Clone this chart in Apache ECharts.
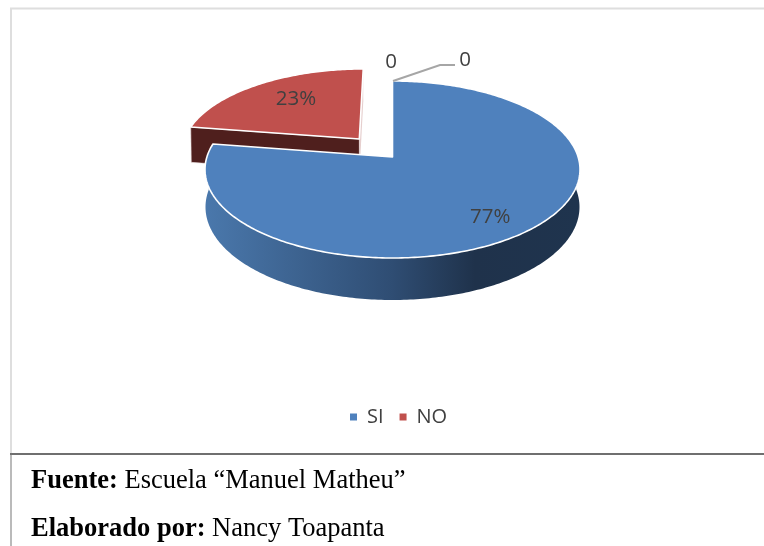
<!DOCTYPE html>
<html><head><meta charset="utf-8">
<style>html,body{margin:0;padding:0;background:#fff}#c{width:764px;height:546px}</style>
<script src="https://cdn.jsdelivr.net/npm/echarts@6/dist/echarts.min.js"></script>
</head><body><div id="c"></div>
<script>
const categories = ['SI', 'NO'];
const seriesValues = [77.45, 22.55];
const zeroLabels = ['0', '0'];
const sourceLabel = 'Fuente:';
const sourceText = 'Escuela “Manuel Matheu”';
const authorLabel = 'Elaborado por:';
const authorText = 'Nancy Toapanta';

const total = seriesValues.reduce((a, b) => a + b, 0);
const TOP = {cx: 392.5, cy: 169.5, rx: 187.5, ry: 88.5};
const BOT = {cx: 392.5, cy: 207, rx: 187, ry: 93};
const A = -0.141;             // perspective shift of the disc centre
const EXPLODE = [0, 0.283];   // radial offset of each slice in disc units
const RADIUS = [1, 0.97];     // exploded slice sits a little further back
const LABEL_F = [0.78, 0.62];
const LABEL_NUDGE = [[-5, 4], [3, -4]];
const S = Math.sqrt(1 - A * A);

function project(u, v, g) {
  const d = 1 + A * v;
  return [g.cx + g.rx * u * S / d, g.cy + g.ry * (v + A) / d];
}
function sliceRange(i) {
  let s = 0;
  for (let k = 0; k < i; k++) s += seriesValues[k];
  return [s / total * 2 * Math.PI, (s + seriesValues[i]) / total * 2 * Math.PI];
}
function rim(i, g, from, to) {
  const mid = (sliceRange(i)[0] + sliceRange(i)[1]) / 2;
  const ox = Math.sin(mid) * EXPLODE[i], oy = -Math.cos(mid) * EXPLODE[i];
  const n = Math.max(2, Math.ceil(Math.abs(to - from) / 0.015));
  const pts = [];
  for (let k = 0; k <= n; k++) {
    const t = from + (to - from) * k / n;
    pts.push(project(Math.sin(t) * RADIUS[i] + ox, -Math.cos(t) * RADIUS[i] + oy, g));
  }
  return pts;
}
function apex(i, g) {
  const r = sliceRange(i), mid = (r[0] + r[1]) / 2;
  return project(Math.sin(mid) * EXPLODE[i], -Math.cos(mid) * EXPLODE[i], g);
}
function labelAt(i) {
  const r = sliceRange(i), mid = (r[0] + r[1]) / 2;
  const e = EXPLODE[i] + LABEL_F[i];
  const p = project(Math.sin(mid) * e, -Math.cos(mid) * e, TOP);
  return [p[0] + LABEL_NUDGE[i][0], p[1] + LABEL_NUDGE[i][1]];
}
const labelStyle = {font: '20.5px "Open Sans"', fill: '#404040', align: 'center', verticalAlign: 'middle'};

function renderSlice(i, topColor, sideFill) {
  return function () {
    const [a, b] = sliceRange(i);
    const children = [];
    if (i === 0) {
      const wall = rim(i, TOP, Math.PI / 2 - 0.05, 3 * Math.PI / 2 + 0.05)
        .concat(rim(i, BOT, 3 * Math.PI / 2 + 0.05, Math.PI / 2 - 0.05));
      children.push({type: 'polygon', shape: {points: wall}, style: {fill: sideFill}});
    } else {
      const wall = [apex(i, TOP), rim(i, TOP, a, a)[0], rim(i, BOT, a, a)[0], apex(i, BOT)];
      children.push({type: 'polygon', shape: {points: wall}, style: {fill: sideFill, stroke: '#e8dcdc', lineWidth: 0.6}});
      const right = [apex(i, TOP), rim(i, TOP, b, b)[0], rim(i, BOT, b, b)[0], apex(i, BOT)];
      children.push({type: 'polygon', shape: {points: right}, style: {fill: '#e6cfce'}});
    }
    const face = [apex(i, TOP)].concat(rim(i, TOP, a, b));
    children.push({type: 'polygon', shape: {points: face},
      style: {fill: topColor, stroke: '#ffffff', lineWidth: 1.6, lineJoin: 'round'}});
    const pos = labelAt(i);
    children.push({type: 'text', x: pos[0], y: pos[1],
      style: Object.assign({text: Math.round(seriesValues[i] / total * 100) + '%'}, labelStyle)});
    return {type: 'group', children};
  };
}
function renderZero() {
  return {type: 'group', children: [
    {type: 'polyline', shape: {points: [[393, 81], [440, 65], [455, 65]]},
      style: {stroke: '#a6a6a6', lineWidth: 2, fill: null}},
    {type: 'text', x: 391, y: 62, style: Object.assign({text: zeroLabels[0]}, labelStyle)},
    {type: 'text', x: 465, y: 60, style: Object.assign({text: zeroLabels[1]}, labelStyle)}
  ]};
}
const blueSide = {type: 'linear', x: 0, y: 0, x2: 1, y2: 0, colorStops: [
  {offset: 0, color: '#4a78ac'}, {offset: 0.5, color: '#2f4d73'},
  {offset: 0.72, color: '#1f324b'}, {offset: 1, color: '#1f344e'}]};

const chart = echarts.init(document.getElementById('c'), null, {renderer: 'canvas'});
chart.setOption({
  animation: false,
  backgroundColor: '#fff',
  color: ['#4f81bd', '#c0504d'],
  legend: {data: categories, left: 345, top: 402, icon: 'rect', itemWidth: 7, itemHeight: 7, itemGap: 16,
    textStyle: {fontFamily: 'Open Sans', fontSize: 20, color: '#404040', padding: [0, 0, 0, 5]}},
  tooltip: {show: false},
  series: [
    {type: 'custom', name: categories[1], coordinateSystem: 'none', data: [seriesValues[1]],
      renderItem: renderSlice(1, '#c0504d', '#4f1f1d'), itemStyle: {color: '#c0504d'}, silent: true, z: 2},
    {type: 'custom', name: categories[0], coordinateSystem: 'none', data: [seriesValues[0]],
      renderItem: renderSlice(0, '#4f81bd', blueSide), itemStyle: {color: '#4f81bd'}, silent: true, z: 3},
    {type: 'custom', name: 'zero', coordinateSystem: 'none', data: [0], renderItem: renderZero, silent: true, z: 4}
  ],
  graphic: [
    {type: 'rect', shape: {x: 10, y: 7.5, width: 754, height: 2}, style: {fill: '#dedede'}},
    {type: 'rect', shape: {x: 10, y: 8, width: 2, height: 445}, style: {fill: '#dedede'}},
    {type: 'rect', shape: {x: 10, y: 453, width: 754, height: 2}, style: {fill: '#6f6f6f'}},
    {type: 'rect', shape: {x: 10.5, y: 453, width: 1, height: 93}, style: {fill: '#777'}},
    {type: 'text', x: 31, y: 481, style: {
      text: '{b|' + sourceLabel + '} ' + sourceText, font: '26.5px "Liberation Serif"', fill: '#000', verticalAlign: 'middle',
      rich: {b: {font: 'bold 26.5px "Liberation Serif"', fill: '#000'}}}},
    {type: 'text', x: 31, y: 529, style: {
      text: '{b|' + authorLabel + '} ' + authorText, font: '26.5px "Liberation Serif"', fill: '#000', verticalAlign: 'middle',
      rich: {b: {font: 'bold 26.5px "Liberation Serif"', fill: '#000'}}}}
  ]
});
</script></body></html>
